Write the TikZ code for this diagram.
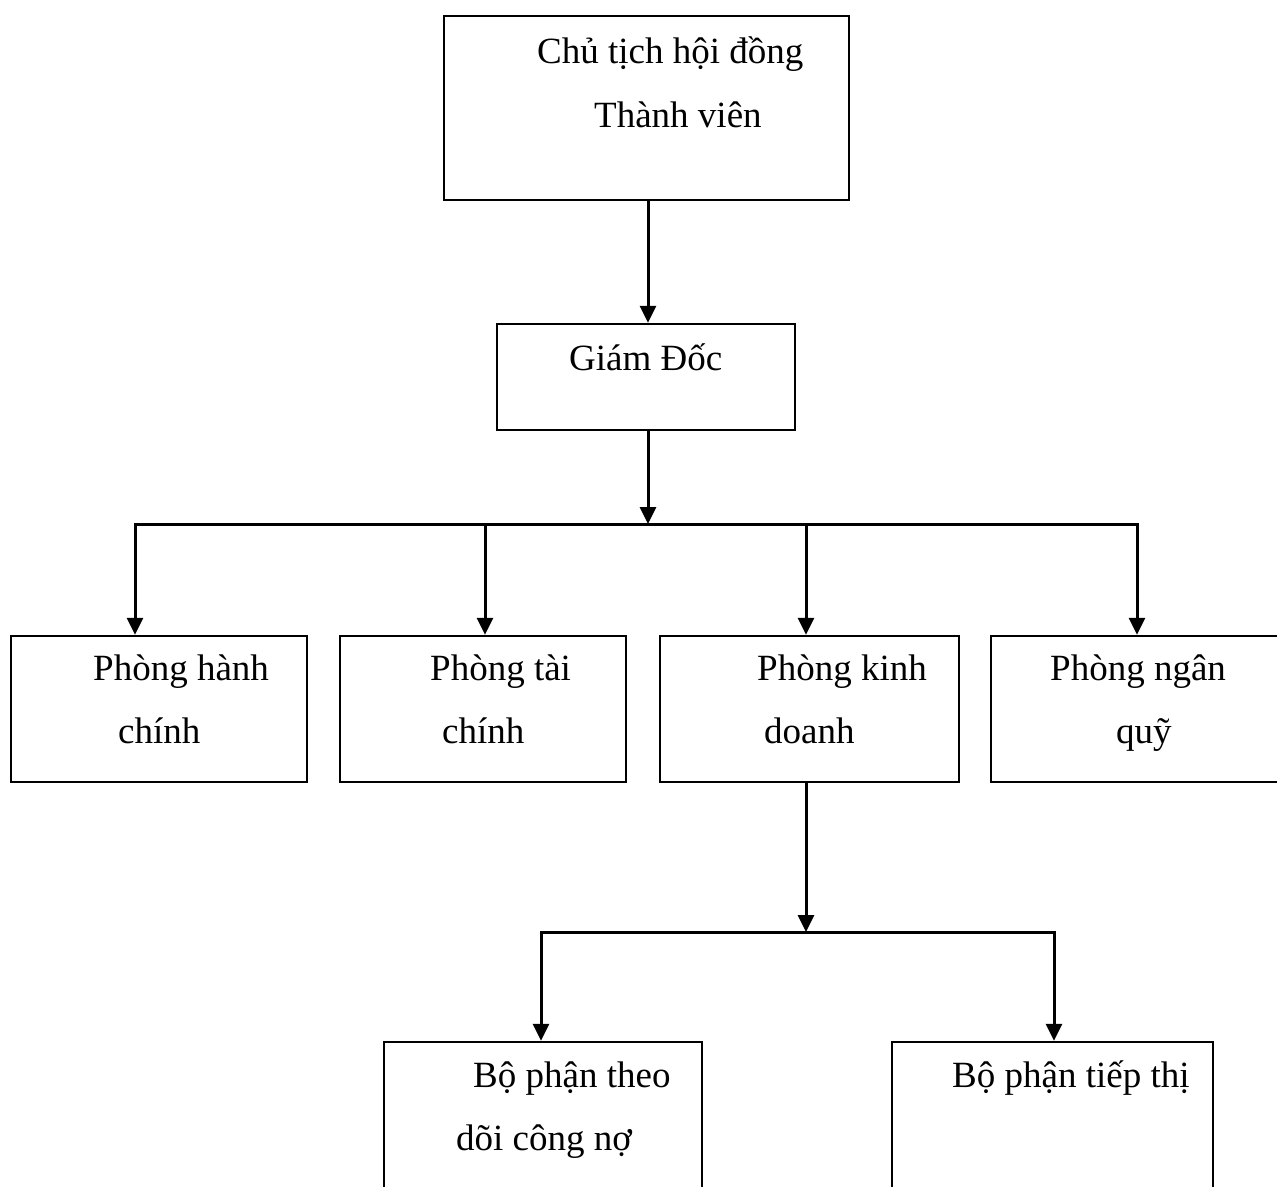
\documentclass[tikz,border=0pt]{standalone}
\usepackage{fontspec}
\setmainfont{Liberation Serif}
\usetikzlibrary{arrows.meta}
\begin{document}
\begin{tikzpicture}[x=1pt,y=-1pt,
  box/.style={draw=black,line width=2.4pt,rectangle,inner sep=0pt},
  lbl/.style={anchor=base west,inner sep=0pt,font=\fontsize{37}{44}\selectfont},
  link/.style={line width=3pt},
  arr/.style={link,-{Triangle[length=17pt,width=16pt]}}]
\clip (0,0) rectangle (1277,1186);
\fill[white] (0,0) rectangle (1277,1186);

% boxes
\node[box,minimum width=405pt,minimum height=184pt] (chair) at (646.5,108) {};
\node[box,minimum width=298pt,minimum height=106pt] (gd) at (646,377) {};
\node[box,minimum width=296pt,minimum height=146pt] (hc) at (159,709) {};
\node[box,minimum width=286pt,minimum height=146pt] (tc) at (483,709) {};
\node[box,minimum width=299pt,minimum height=146pt] (kd) at (809.5,709) {};
\node[box,minimum width=300pt,minimum height=146pt] (nq) at (1141,709) {};
\node[box,minimum width=318pt,minimum height=200pt] (cn) at (543,1142) {};
\node[box,minimum width=321pt,minimum height=200pt] (tt) at (1052.5,1142) {};

% labels
\node[lbl] (chairA) at (537,63) {Chủ tịch hội đồng};
\node[lbl] (chairB) at (594,127) {Thành viên};
\node[lbl] (gdA) at (569,370) {Giám Đốc};
\node[lbl] (hcA) at (93,680) {Phòng hành};
\node[lbl] (hcB) at (118,743) {chính};
\node[lbl] (tcA) at (430,680) {Phòng tài};
\node[lbl] (tcB) at (442,743) {chính};
\node[lbl] (kdA) at (757,680) {Phòng kinh};
\node[lbl] (kdB) at (764,743) {doanh};
\node[lbl] (nqA) at (1050,680) {Phòng ngân};
\node[lbl] (nqB) at (1116,743) {quỹ};
\node[lbl] (cnA) at (473,1087) {Bộ phận theo};
\node[lbl] (cnB) at (456,1150) {dõi công nợ};
\node[lbl] (ttA) at (952,1087) {Bộ phận tiếp thị};

% junction points
\coordinate (j1) at (648,524);
\coordinate (p1) at (135,524);
\coordinate (p2) at (485,524);
\coordinate (p3) at (806,524);
\coordinate (p4) at (1137,524);
\coordinate (j2) at (806,932);
\coordinate (q1) at (541,932);
\coordinate (q2) at (1054,932);

% connectors
\draw[arr] (chair.south -| j1) -- (gd.north -| j1);
\draw[arr] (gd.south -| j1) -- (j1);
\draw[link,line cap=rect] (p1) -- (p4);
\draw[arr] (p1) -- (p1 |- hc.north);
\draw[arr] (p2) -- (p2 |- tc.north);
\draw[arr] (p3) -- (p3 |- kd.north);
\draw[arr] (p4) -- (p4 |- nq.north);
\draw[arr] (kd.south -| j2) -- (j2);
\draw[link,line cap=rect] (q1) -- (q2);
\draw[arr] (q1) -- (q1 |- cn.north);
\draw[arr] (q2) -- (q2 |- tt.north);
\end{tikzpicture}
\end{document}
